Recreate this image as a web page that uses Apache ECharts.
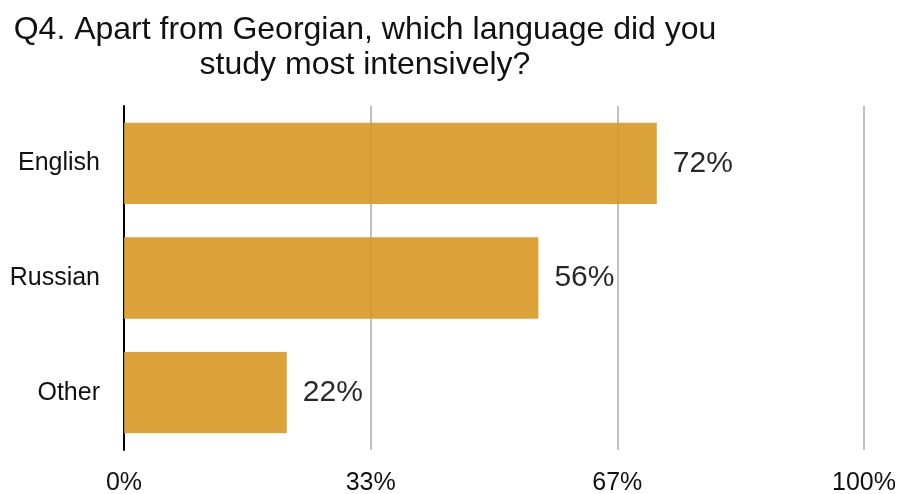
<!DOCTYPE html>
<html>
<head>
<meta charset="utf-8">
<script src="https://cdn.jsdelivr.net/npm/echarts@6/dist/echarts.min.js"></script>
<style>
  html, body { margin: 0; padding: 0; background: #fff; }
  #chart { width: 901px; height: 494px; }
</style>
</head>
<body>
<div id="chart"></div>
<script>
// Survey answers, top to bottom
const categories = ['English', 'Russian', 'Other'];
const shares = [72, 56, 22];
const tickLabels = ['0%', '33%', '67%', '100%'];

const chart = echarts.init(document.getElementById('chart'), null, { renderer: 'canvas' });
const font = '"Liberation Sans", Arial, sans-serif';

chart.setOption({
  animation: false,
  title: {
    text: 'Q4. Apart from Georgian, which language did you\nstudy most intensively?',
    left: 360,
    top: 8,
    textAlign: 'center',
    textStyle: { fontFamily: font, fontSize: 32, fontWeight: 'normal', color: '#111', lineHeight: 35 }
  },
  grid: { left: 124, right: 37, top: 106, bottom: 44, containLabel: false, outerBoundsMode: 'none' },
  xAxis: {
    type: 'value',
    min: 0,
    max: 100,
    interval: 100 / 3,
    axisLine: { show: false },
    axisTick: { show: false },
    splitLine: { show: true, lineStyle: { color: '#c0c0c0', width: 2 } },
    axisLabel: {
      margin: 21,
      fontFamily: font,
      fontSize: 25,
      color: '#111',
      formatter: (v) => tickLabels[Math.round(v / (100 / 3))]
    }
  },
  yAxis: {
    type: 'category',
    inverse: true,
    data: categories,
    axisLine: { show: true, lineStyle: { color: '#000', width: 2 } },
    axisTick: { show: false },
    axisLabel: { margin: 24, fontFamily: font, fontSize: 25, color: '#111', padding: [3, 0, 0, 0] }
  },
  series: [{
    type: 'bar',
    data: shares,
    barWidth: '71%',
    itemStyle: { color: '#D79924', opacity: 0.9 },
    label: {
      show: true,
      position: 'right',
      distance: 16,
      fontFamily: font,
      fontSize: 30,
      color: '#111',
      padding: [4, 0, 0, 0],
      formatter: (p) => p.value + '%'
    }
  }]
});
</script>
</body>
</html>
